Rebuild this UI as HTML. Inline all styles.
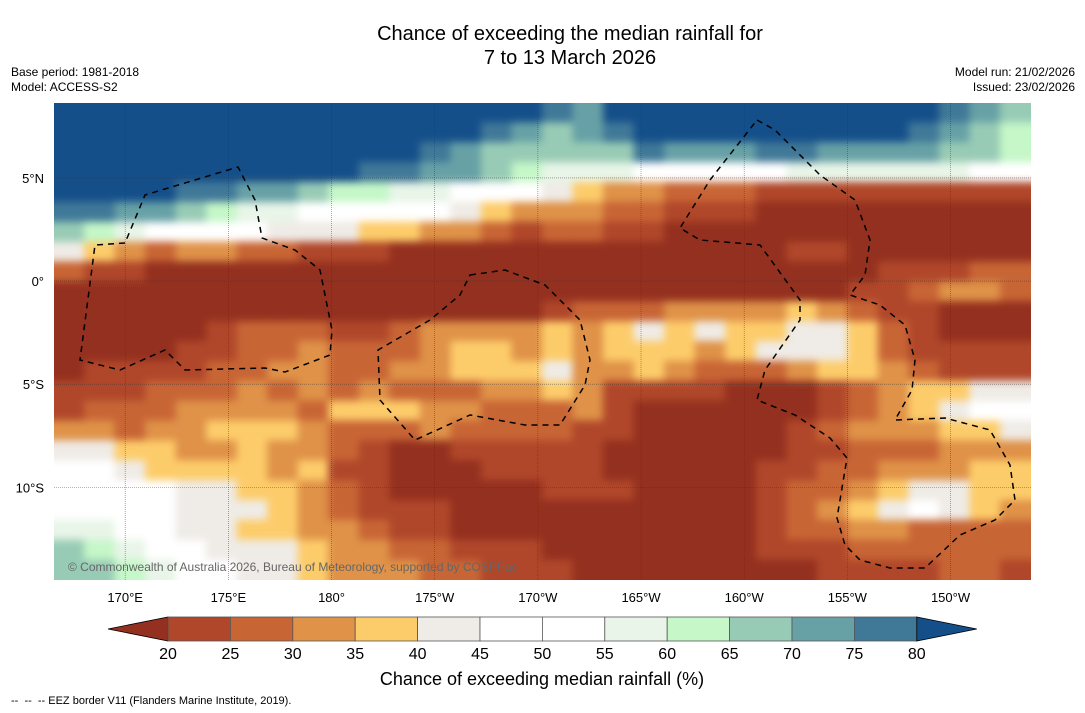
<!DOCTYPE html>
<html><head><meta charset="utf-8">
<style>
body{margin:0;background:#fff;font-family:"Liberation Sans","DejaVu Sans",sans-serif;}
#wrap{position:relative;width:1085px;height:713px;overflow:hidden;background:#fff;}
.t{position:absolute;white-space:nowrap;color:#000;}
</style></head><body>
<div id="wrap">
<div class="t" style="left:0;width:1140px;top:22px;text-align:center;font-size:20px;line-height:24px;">Chance of exceeding the median rainfall for<br>7 to 13 March 2026</div>
<div class="t" style="left:11px;top:65px;font-size:12px;line-height:15px;">Base period: 1981-2018<br>Model: ACCESS-S2</div>
<div class="t" style="right:10px;top:65px;font-size:12px;line-height:15px;text-align:right;">Model run: 21/02/2026<br>Issued: 23/02/2026</div>
<div class="t" style="left:11px;top:695px;font-size:11px;">-- &nbsp;-- &nbsp;-- EEZ border V11 (Flanders Marine Institute, 2019).</div>
<svg id="svg" width="1085" height="713" style="position:absolute;left:0;top:0"></svg>
</div>
<script>
const NS="http://www.w3.org/2000/svg";
const svg=document.getElementById('svg');
// data
const binColors=["#94301f","#b0472a","#c86535","#df9248","#fdcc6a","#efebe6","#ffffff","#e8f5e8","#c5f7c8","#98cbb5","#67a1a6","#407898","#154f8a"];
const cbColors=["#b0472a","#c86535","#df9248","#fdcc6a","#efebe6","#ffffff","#ffffff","#e8f5e8","#c5f7c8","#98cbb5","#67a1a6","#407898"];
const binEdges=[20,25,30,35,40,45,50,55,60,65,70,75,80];
const lonTicks=[170,175,180,185,190,195,200,205,210];
const lonLabels=["170°E","175°E","180°","175°W","170°W","165°W","160°W","155°W","150°W"];
const latTicks=[5,0,-5,-10];
const latLabels=["5°N","0°","5°S","10°S"];
const gridRows=[
"ccccccccccccccccbacccccccccccba9",
"ccccccccccccccba9abcccccccccba98",
"ccccccccccccba99999baaabbaaaa998",
"ccccccccccbbaa987776666677777766",
"ccccbbaa988776665433222111111111",
"bbaa9877666665433322111000000000",
"98766665554433212211000000000000",
"54323322111000000000000011000000",
"21100000000000000000000000011122",
"00000000000000000000000000112332",
"00000000000000001222333343211000",
"00000122211233334345454455421000",
"00001122322234434344434555421111",
"01111223322334445334322234432111",
"11122232323222334311110001234455",
"12223333244433222310000001234566",
"33233444322232222110000012333445",
"55443343321001111100000011222333",
"66544443411000111100000112233344",
"66665544321000001110000122345544",
"66665554321110000000000123456543",
"77665544332110000000000122332222",
"98766555433221110000000111222222",
"99876655433322111000000001111221"
];
const lonMin=166.55, lonMax=213.9, latMax=8.63, latMin=-14.49;
const X0=54,X1=1031,Y0=103,Y1=580;
function xs(lon){return X0+(lon-lonMin)/(lonMax-lonMin)*(X1-X0);}
function ys(lat){return Y0+(latMax-lat)/(latMax-latMin)*(Y1-Y0);}
function el(tag,attrs){const e=document.createElementNS(NS,tag);for(const k in attrs)e.setAttribute(k,attrs[k]);return e;}
const defs=el('defs',{});
defs.innerHTML='<clipPath id="mc"><rect x="54" y="103" width="977" height="477"/></clipPath>';
svg.appendChild(defs);
const mapG=el('g',{'clip-path':'url(#mc)'});


svg.appendChild(mapG);
const cellG=el('g',{});
cellG.style.filter='blur(4px)';
mapG.appendChild(cellG);
const nR=gridRows.length,nC=32;
const dLon=(lonMax-lonMin)/nC, dLat=(latMax-latMin)/nR;
for(let r=0;r<nR;r++){for(let c=0;c<nC;c++){
 const v=parseInt(gridRows[r][c]||'0',16);
 const xa=xs(lonMin+c*dLon), xb=xs(lonMin+(c+1)*dLon), ya=ys(latMax-r*dLat), yb=ys(latMax-(r+1)*dLat);
 const x1=c==0?xa-12:xa-0.5, x2=c==nC-1?xb+12:xb+0.5;
 const y1=r==0?ya-12:ya-0.5, y2=r==nR-1?yb+12:yb+0.5;
 const rc=el('rect',{x:x1,y:y1,width:x2-x1,height:y2-y1,fill:binColors[v]});
 
 
 cellG.appendChild(rc);
}}
// gridlines
lonTicks.forEach((lon,i)=>{
 const x=xs(lon);
 const l=el('line',{x1:x,x2:x,y1:Y0,y2:Y1,stroke:'#333','stroke-width':0.6,'stroke-dasharray':'1,1',opacity:0.7});
 
 
 mapG.appendChild(l);
 const t=el('text',{x:x,y:602,'font-size':13,'text-anchor':'middle','font-family':'Liberation Sans, sans-serif'});
 t.textContent=lonLabels[i];
 
 
 svg.appendChild(t);
});
latTicks.forEach((lat,i)=>{
 const y=ys(lat);
 const l=el('line',{x1:X0,x2:X1,y1:y,y2:y,stroke:'#333','stroke-width':0.6,'stroke-dasharray':'1,1',opacity:0.7});
 
 
 mapG.appendChild(l);
 const t=el('text',{x:44,y:y+5,'font-size':13,'text-anchor':'end','font-family':'Liberation Sans, sans-serif'});
 t.textContent=latLabels[i];
 
 
 svg.appendChild(t);
});
// EEZ borders
const eez=[
"M125,243 L95,245 L80,360 L120,370 L165,350 L185,370 L265,368 L285,372 L330,355 L332,330 L320,270 L295,250 L262,238 L255,200 L238,167 L145,195 L125,243",
"M470,275 L505,270 L545,285 L580,320 L590,360 L585,385 L560,425 L525,425 L470,415 L415,440 L380,400 L378,350 L430,320 L460,295 Z",
"M757,120 L775,130 L820,175 L855,200 L870,240 L865,275 L850,295 L880,305 L905,325 L915,360 L912,390 L895,420 L945,418 L990,430 L1010,465 L1015,500 L995,520 L960,535 L925,568 L890,568 L860,560 L845,545 L837,518 L847,458 L830,438 L795,415 L757,400 L765,370 L800,320 L800,300 L760,245 L700,240 L680,228 L710,180 Z"];
eez.forEach(d=>{const p=el('path',{d:d,fill:'none',stroke:'#000','stroke-width':1.5,'stroke-dasharray':'6,5'});
 
 
 mapG.appendChild(p);});
const cp=el('text',{x:68,y:571,'font-size':12,fill:'#666','font-family':'Liberation Sans, sans-serif'});
cp.textContent='© Commonwealth of Australia 2026, Bureau of Meteorology, supported by COSPPac';


svg.appendChild(cp);
// colorbar
const cbX0=168, cbW=62.4, cbY=617, cbH=24;
const lt=el('polygon',{points:`108,${cbY+cbH/2} ${cbX0},${cbY} ${cbX0},${cbY+cbH}`,fill:binColors[0],stroke:'#000','stroke-width':0.8});


svg.appendChild(lt);
cbColors.forEach((col,i)=>{
 const r=el('rect',{x:cbX0+i*cbW,y:cbY,width:cbW,height:cbH,fill:col,stroke:'#555','stroke-width':0.8});
 
 
 svg.appendChild(r);
});
const rx=cbX0+cbColors.length*cbW;
const rt=el('polygon',{points:`${rx},${cbY} ${rx+60},${cbY+cbH/2} ${rx},${cbY+cbH}`,fill:binColors[12],stroke:'#000','stroke-width':0.8});


svg.appendChild(rt);
binEdges.forEach((v,i)=>{
 const t=el('text',{x:cbX0+i*cbW,y:659,'font-size':16,'text-anchor':'middle','font-family':'Liberation Sans, sans-serif'});
 t.textContent=v;
 
 
 svg.appendChild(t);
});
const ct=el('text',{x:542,y:685,'font-size':18,'text-anchor':'middle','font-family':'Liberation Sans, sans-serif'});
ct.textContent='Chance of exceeding median rainfall (%)';


svg.appendChild(ct);
</script>
</body></html>
